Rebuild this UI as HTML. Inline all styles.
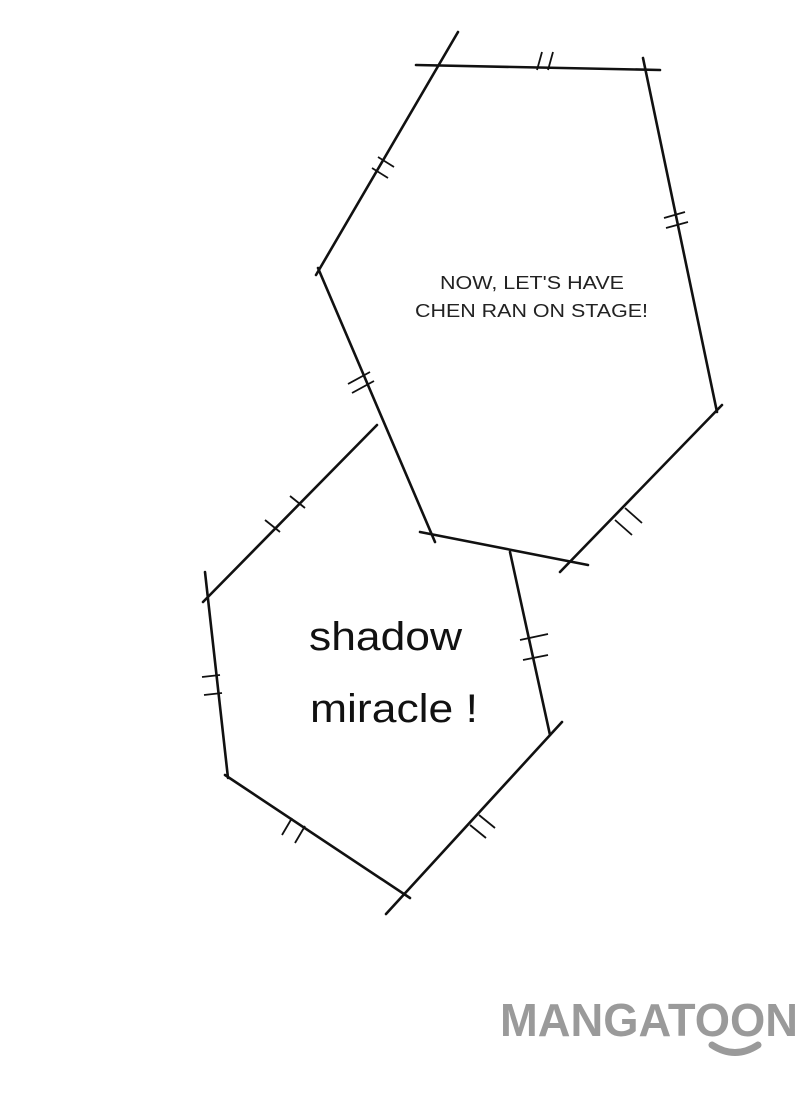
<!DOCTYPE html>
<html><head><meta charset="utf-8"><style>
html,body{margin:0;padding:0;background:#fff;width:800px;height:1110px;overflow:hidden}
svg{position:absolute;left:0;top:0}
</style></head><body>
<svg width="800" height="1110" viewBox="0 0 800 1110" xmlns="http://www.w3.org/2000/svg">
<g stroke="#111" stroke-width="2.6" fill="none" stroke-linecap="round">
<line x1="458" y1="32" x2="316" y2="275"/>
<line x1="416" y1="65" x2="660" y2="70"/>
<line x1="643" y1="58" x2="717" y2="412"/>
<line x1="722" y1="405" x2="560" y2="572"/>
<line x1="588" y1="565" x2="420" y2="532"/>
<line x1="435" y1="542" x2="318" y2="268"/>
<line x1="377" y1="425" x2="203" y2="602"/>
<line x1="205" y1="572" x2="228" y2="778"/>
<line x1="225" y1="775" x2="410" y2="898"/>
<line x1="386" y1="914" x2="562" y2="722"/>
<line x1="550" y1="735" x2="510" y2="552"/>
</g>
<g stroke="#111" stroke-width="1.8">
<line x1="537" y1="70" x2="542" y2="52"/><line x1="548" y1="70" x2="553" y2="52"/>
<line x1="372" y1="168" x2="388" y2="178"/><line x1="378" y1="157" x2="394" y2="167"/>
<line x1="664" y1="218" x2="685" y2="212"/><line x1="666" y1="228" x2="688" y2="222"/>
<line x1="348" y1="384" x2="370" y2="372"/><line x1="352" y1="393" x2="374" y2="381"/>
<line x1="615" y1="520" x2="632" y2="535"/><line x1="625" y1="508" x2="642" y2="523"/>
<line x1="265" y1="520" x2="280" y2="532"/><line x1="290" y1="496" x2="305" y2="508"/>
<line x1="202" y1="677" x2="220" y2="675"/><line x1="204" y1="695" x2="222" y2="693"/>
<line x1="282" y1="835" x2="292" y2="818"/><line x1="295" y1="843" x2="305" y2="826"/>
<line x1="470" y1="825" x2="486" y2="838"/><line x1="479" y1="815" x2="495" y2="828"/>
<line x1="520" y1="640" x2="548" y2="634"/><line x1="523" y1="660" x2="548" y2="655"/>
</g>
<text x="440" y="289" font-family="Liberation Sans, sans-serif" font-size="18" fill="#222" textLength="184" lengthAdjust="spacingAndGlyphs">NOW, LET'S HAVE</text>
<text x="415" y="317" font-family="Liberation Sans, sans-serif" font-size="18" fill="#222" textLength="233" lengthAdjust="spacingAndGlyphs">CHEN RAN ON STAGE!</text>
<text x="309" y="650" font-family="Liberation Sans, sans-serif" font-size="40" fill="#111" textLength="153" lengthAdjust="spacingAndGlyphs">shadow</text>
<text x="310" y="722" font-family="Liberation Sans, sans-serif" font-size="40" fill="#111" textLength="168" lengthAdjust="spacingAndGlyphs">miracle !</text>
<text x="500" y="1036" font-family="Liberation Sans, sans-serif" font-weight="bold" font-size="46" fill="#9a9a9a" textLength="298" lengthAdjust="spacingAndGlyphs">MANGATOON</text>
<path d="M712 1045 Q735 1060 758 1045" stroke="#9a9a9a" stroke-width="7" fill="none" stroke-linecap="round"/>
</svg>
</body></html>
